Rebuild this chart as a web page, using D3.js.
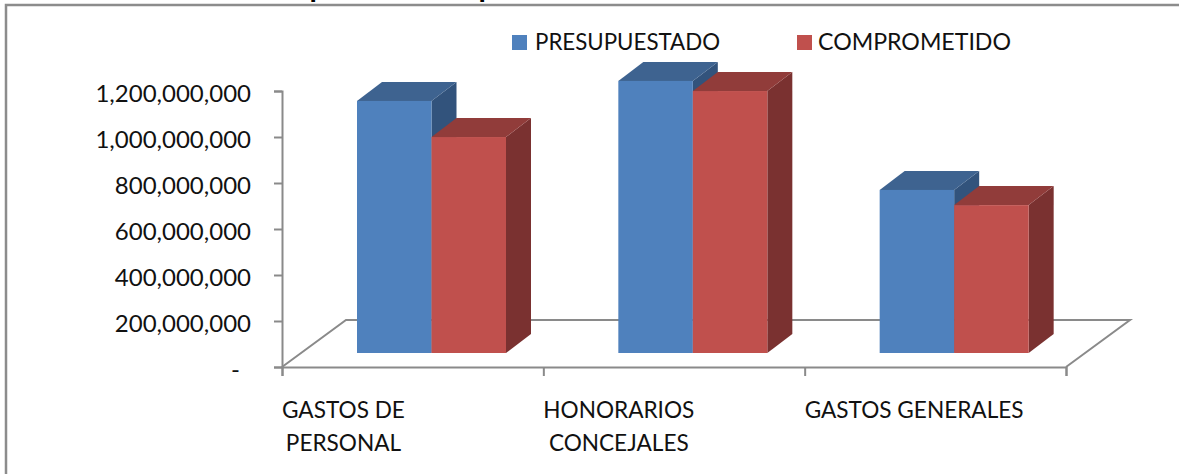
<!DOCTYPE html>
<html lang="es">
<head>
    <meta charset="UTF-8" />
    <title>Presupuestado vs comprometido</title>
    <script src="https://d3js.org/d3.v7.min.js"></script>
    <style>
        html, body { margin: 0; padding: 0; background: #fff; overflow: hidden; }
        svg { display: block; }
        text { font-family: Lato, sans-serif; font-size: 22.6px; fill: #111; }
        .axis path, .axis line { stroke: #8a8a8a; stroke-width: 2px; }
        .y-axis text { font-size: 24px; }
    </style>
</head>
<body>
    <div id="chart"></div>
    <script>
// values
var categories = ["GASTOS DE|PERSONAL", "HONORARIOS|CONCEJALES", "GASTOS GENERALES"];
var seriesNames = ["PRESUPUESTADO", "COMPROMETIDO"];
var presupuestado = [1096000000, 1183000000, 709000000];
var comprometido = [939000000, 1139000000, 643000000];
var yTicks = [0, 200000000, 400000000, 600000000, 800000000, 1000000000, 1200000000];

var width = 1179, height = 474;
var left = 282, right = 1066, bottom = 367, top_ = 91;
var floorDx = 64, floorDy = 47;   // floor depth
var barDx = 25, barDy = 19;       // bar depth
var baseLift = 14;                // bars stand this far back on the floor

var colors = [
    { front: "#4f81bd", top: "#3e6390", side: "#32537c" },
    { front: "#c0504d", top: "#913c3a", side: "#7a3130" }
];

var svg = d3.select("#chart").append("svg")
    .attr("width", width)
    .attr("height", height);

// outer frame, only the top and left edges are in the crop
svg.append("path")
    .attr("d", "M6,474V5H1179")
    .attr("fill", "none")
    .attr("stroke", "#8c8c8c")
    .attr("stroke-width", 2.5);

// clipped title: only two descenders are left in the crop
svg.selectAll(".title-bit")
    .data(["p", "p"])
    .enter().append("text")
    .attr("class", "title-bit")
    .attr("x", function(d, i) { return i === 0 ? 309.5 : 478.5; })
    .attr("y", -3)
    .style("font-weight", "bold")
    .style("font-size", "30px")
    .style("fill", "#000")
    .text(function(d) { return d; });

var y = d3.scaleLinear().domain([0, 1200000000]).range([bottom, top_]);
var x = d3.scaleBand().domain(categories).range([left, right]);
var xInner = d3.scaleBand().domain(seriesNames).range([75, 224]);
var tickPos = d3.scalePoint().domain(d3.range(categories.length + 1)).range([left, right]);

// floor
svg.append("path")
    .attr("d", d3.line()([
        [left, bottom],
        [left + floorDx, bottom - floorDy],
        [right + floorDx, bottom - floorDy],
        [right, bottom]
    ]))
    .attr("fill", "none")
    .attr("stroke", "#8a8a8a")
    .attr("stroke-width", 2);

// axes
var yAxis = d3.axisLeft(y)
    .tickValues(yTicks)
    .tickSize(8)
    .tickPadding(23)
    .tickFormat(function(d) { return d === 0 ? "-" : d3.format(",")(d); });

var gy = svg.append("g")
    .attr("class", "axis y-axis")
    .attr("transform", "translate(" + left + ",0)")
    .call(yAxis);
gy.attr("font-size", null).attr("font-family", null);
gy.selectAll("text").attr("dy", "0.42em");
// the zero label keeps the room of the accounting format
gy.selectAll(".tick").filter(function(d) { return d === 0; }).select("text").attr("dx", -11);

var xAxis = d3.axisBottom(tickPos).tickSize(9).tickFormat("");
svg.append("g")
    .attr("class", "axis")
    .attr("transform", "translate(0," + bottom + ")")
    .call(xAxis);

// bars
var valuesBySeries = [presupuestado, comprometido];
categories.forEach(function(cat, c) {
    seriesNames.forEach(function(name, s) {
        var v = valuesBySeries[s][c];
        var x0 = x(cat) + xInner(name);
        var x1 = x0 + xInner.bandwidth();
        var base = bottom - baseLift;
        var yTop = y(v) - baseLift;
        var g = svg.append("g").attr("class", "bar");
        g.append("path")
            .attr("d", d3.line()([[x1, yTop], [x1 + barDx, yTop - barDy], [x1 + barDx, base - barDy], [x1, base]]) + "Z")
            .attr("fill", colors[s].side);
        g.append("path")
            .attr("d", d3.line()([[x0, yTop], [x0 + barDx, yTop - barDy], [x1 + barDx, yTop - barDy], [x1, yTop]]) + "Z")
            .attr("fill", colors[s].top);
        g.append("rect")
            .attr("x", x0)
            .attr("y", yTop)
            .attr("width", x1 - x0)
            .attr("height", base - yTop)
            .attr("fill", colors[s].front);
    });
});

// category labels, block starts at the left tick of its band
categories.forEach(function(cat) {
    var lines = cat.split("|");
    var g = svg.append("g");
    var labels = g.selectAll("text").data(lines).enter().append("text")
        .attr("y", function(d, i) { return 418 + i * 33; })
        .attr("text-anchor", "middle")
        .text(function(d) { return d; });
    var w = d3.max(labels.nodes(), function(n) { return n.getComputedTextLength(); });
    labels.attr("x", x(cat) + w / 2);
});

// legend
var legendSwatch = [512, 797];
var legendText = [535, 818];
var legendWidth = [185, 193];
seriesNames.forEach(function(name, s) {
    svg.append("rect")
        .attr("x", legendSwatch[s])
        .attr("y", 35)
        .attr("width", 15)
        .attr("height", 15)
        .attr("fill", colors[s].front);
    svg.append("text")
        .attr("x", legendText[s])
        .attr("y", 49.5)
        .attr("textLength", legendWidth[s])
        .attr("lengthAdjust", "spacingAndGlyphs")
        .text(name);
});
    </script>
</body>
</html>
